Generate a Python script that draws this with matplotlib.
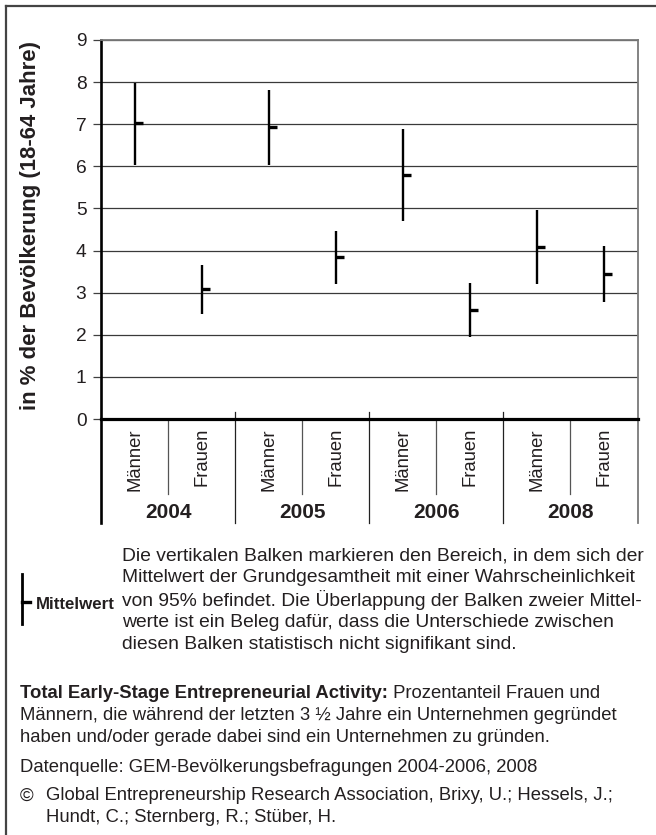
import matplotlib
matplotlib.use('Agg')
import matplotlib.pyplot as plt
from matplotlib.lines import Line2D

plt.rcParams['font.family'] = ['Liberation Sans', 'DejaVu Sans']

# TEA-Quote mit 95%-Konfidenzintervall
years = ['2004', '2005', '2006', '2008']
groups = ['Männer', 'Frauen']
lower = [6.03, 2.49, 6.03, 3.21, 4.70, 1.95, 3.21, 2.78]
upper = [7.98, 3.66, 7.81, 4.47, 6.89, 3.23, 4.96, 4.10]
mittel = [7.03, 3.08, 6.93, 3.84, 5.80, 2.60, 4.09, 3.44]

W, H = 656, 835
TXT = '#231f20'


def fx(px):
    return px / W


def fy(py):
    return 1 - py / H


fig = plt.figure(figsize=(W / 100, H / 100), dpi=100)
fig.patch.set_facecolor('white')

ax = fig.add_axes([fx(101), fy(419), fx(637.5) - fx(101), fy(40) - fy(419)])
n = len(years) * len(groups)
xs = list(range(n))

ax.set_xlim(-0.5, n - 0.5)
ax.set_ylim(0, 9)
ax.set_yticks(range(0, 10))
ax.set_xticks([])
ax.tick_params(axis='y', direction='out', length=5.5, width=0.9, color='#404040',
               labelsize=13.8, labelcolor=TXT, pad=5)
ax.grid(axis='y', color='#3a3a3a', linewidth=0.9)
ax.set_axisbelow(True)

for s in ['top', 'right']:
    ax.spines[s].set_color('#7a7a7a')
    ax.spines[s].set_linewidth(1.3)
ax.spines['left'].set_color('black')
ax.spines['left'].set_linewidth(1.9)
ax.spines['bottom'].set_color('black')
ax.spines['bottom'].set_linewidth(2.3)

# Balken und Mittelwerte
ax.vlines(xs, lower, upper, color='black', linewidth=1.7, zorder=3)
ax.hlines(mittel, xs, [x + 0.12 for x in xs], color='black', linewidth=2.4, zorder=3)

# Kategorien unter der Achse
tr = ax.get_xaxis_transform()
px_ax = 379.0
for i, x in enumerate(xs):
    ax.text(x, -9 / px_ax, groups[i % 2], rotation=90, ha='center', va='top',
            fontsize=13.3, color=TXT, transform=tr)
for j, yr in enumerate(years):
    ax.text(2 * j + 0.5, -94 / px_ax, yr, ha='center', va='center', fontsize=15,
            fontweight='bold', color=TXT, transform=tr)
    ax.add_line(Line2D([2 * j + 0.5] * 2, [0, -75 / px_ax], color='#555555',
                       linewidth=0.9, transform=tr, clip_on=False))
for j in range(1, len(years)):
    ax.add_line(Line2D([2 * j - 0.5] * 2, [7 / px_ax, -104 / px_ax], color='#222222',
                       linewidth=0.9, transform=tr, clip_on=False))
ax.add_line(Line2D([-0.5] * 2, [0, -104 / px_ax], color='black', linewidth=1.9,
                   transform=tr, clip_on=False))
ax.add_line(Line2D([n - 0.5] * 2, [0, -104 / px_ax], color='#7a7a7a', linewidth=1.3,
                   transform=tr, clip_on=False))

fig.text(fx(31), fy(226), 'in % der Bevölkerung (18-64 Jahre)', rotation=90,
         ha='center', va='center', fontsize=15.9, fontweight='bold', color=TXT)

# Rahmen
fig.add_artist(Line2D([fx(6), fx(6)], [fy(6), 0], color='#444444', linewidth=1.6))
fig.add_artist(Line2D([fx(6), 1], [fy(6), fy(6)], color='#444444', linewidth=1.6))

# Legende
fig.add_artist(Line2D([fx(22), fx(22)], [fy(574), fy(624)], color='black', linewidth=2))
fig.add_artist(Line2D([fx(22), fx(30)], [fy(602), fy(602)], color='black', linewidth=2.4))
fig.text(fx(36), fy(603), 'Mittelwert', fontsize=12.2, fontweight='bold', color=TXT,
         ha='left', va='center_baseline')

legend_lines = [
    'Die vertikalen Balken markieren den Bereich, in dem sich der',
    'Mittelwert der Grundgesamtheit mit einer Wahrscheinlichkeit',
    'von 95% befindet. Die Überlappung der Balken zweier Mittel-',
    'werte ist ein Beleg dafür, dass die Unterschiede zwischen',
    'diesen Balken statistisch nicht signifikant sind.',
]
for k, line in enumerate(legend_lines):
    fig.text(fx(122), fy(598 + (k - 2) * 22.2), line, fontsize=13.9, color=TXT,
             ha='left', va='center_baseline')

# Fußnoten
t_bold = fig.text(fx(20), fy(692), 'Total Early-Stage Entrepreneurial Activity:',
                  fontsize=13.3, fontweight='bold', color=TXT, ha='left',
                  va='center_baseline')
fig.canvas.draw()
bb = t_bold.get_window_extent(fig.canvas.get_renderer())
fig.text(bb.x1 / fig.bbox.width, fy(692), ' Prozentanteil Frauen und', fontsize=13.3,
         color=TXT, ha='left', va='center_baseline')
fig.text(fx(20), fy(714), 'Männern, die während der letzten 3 ½ Jahre ein Unternehmen gegründet',
         fontsize=13.3, color=TXT, ha='left', va='center_baseline')
fig.text(fx(20), fy(736), 'haben und/oder gerade dabei sind ein Unternehmen zu gründen.',
         fontsize=13.3, color=TXT, ha='left', va='center_baseline')
fig.text(fx(20), fy(765), 'Datenquelle: GEM-Bevölkerungsbefragungen 2004-2006, 2008',
         fontsize=13.3, color=TXT, ha='left', va='center_baseline')
fig.text(fx(20), fy(794), '©', fontsize=13.3, color=TXT, ha='left', va='center_baseline')
fig.text(fx(46), fy(794), 'Global Entrepreneurship Research Association, Brixy, U.; Hessels, J.;',
         fontsize=13.3, color=TXT, ha='left', va='center_baseline')
fig.text(fx(46), fy(816), 'Hundt, C.; Sternberg, R.; Stüber, H.',
         fontsize=13.3, color=TXT, ha='left', va='center_baseline')

fig.savefig('out.png', dpi=100, facecolor='white')
plt.close(fig)
